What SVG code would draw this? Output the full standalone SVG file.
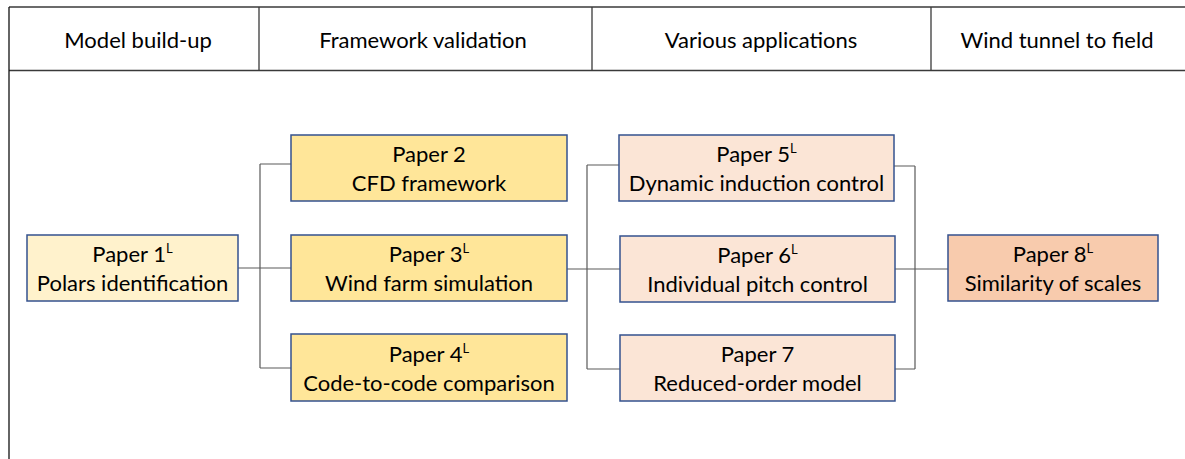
<svg xmlns="http://www.w3.org/2000/svg" width="1185" height="459" viewBox="0 0 1185 459">
<style>
text{font-family:Lato,"Open Sans","Liberation Sans",sans-serif;font-size:22px;fill:#000;text-anchor:middle}
.frame{stroke:#3a3a3a;stroke-width:1.3;fill:none}
.box{stroke:#34528F;stroke-width:1.5}
.c1{fill:#FFF2CC}.c2{fill:#FFE699}.c3{fill:#FBE5D6}.c4{fill:#F8CBAD}
.conn{stroke:#5a5a5a;stroke-width:1.2;fill:none}
.sup{font-size:13px}
</style>
<g id="header">
<line class="frame" x1="9" y1="7" x2="1185" y2="7"/>
<line class="frame" x1="9" y1="70.5" x2="1185" y2="70.5"/>
<line class="frame" x1="9" y1="7" x2="9" y2="459" style="stroke:#111"/>
<line class="frame" x1="259" y1="7" x2="259" y2="70.5"/>
<line class="frame" x1="592" y1="7" x2="592" y2="70.5"/>
<line class="frame" x1="931" y1="7" x2="931" y2="70.5"/>
<text x="138" y="48">Model build-up</text>
<text x="423" y="48">Framework validation</text>
<text x="761" y="48">Various applications</text>
<text x="1057" y="48">Wind tunnel to field</text>
</g>
<g id="connectors">
<path class="conn" d="M238,268 H291 M260,164 V368 M260,164 H291 M260,368 H291"/>
<path class="conn" d="M567,269 H620 M587,165 V369 M587,165 H619 M587,369 H620"/>
<path class="conn" d="M894,166 H915 M915,166 V369 M895,369 H915 M895,269 H948"/>
</g>
<g id="paper1"><rect class="box c1" x="27" y="235" width="211" height="66"/>
<text x="132.5" y="262">Paper 1<tspan class="sup" dy="-9">L</tspan></text><text x="132.5" y="291">Polars identification</text></g>
<g id="paper2"><rect class="box c2" x="291" y="135" width="276" height="66"/>
<text x="429" y="162">Paper 2</text><text x="429" y="191">CFD framework</text></g>
<g id="paper3"><rect class="box c2" x="291" y="235" width="276" height="66"/>
<text x="429" y="262">Paper 3<tspan class="sup" dy="-9">L</tspan></text><text x="429" y="291">Wind farm simulation</text></g>
<g id="paper4"><rect class="box c2" x="291" y="334" width="276" height="67"/>
<text x="429" y="362">Paper 4<tspan class="sup" dy="-9">L</tspan></text><text x="429" y="391">Code-to-code comparison</text></g>
<g id="paper5"><rect class="box c3" x="619" y="135" width="275" height="66"/>
<text x="756.5" y="162">Paper 5<tspan class="sup" dy="-9">L</tspan></text><text x="756.5" y="191">Dynamic induction control</text></g>
<g id="paper6"><rect class="box c3" x="620" y="236" width="275" height="66"/>
<text x="757.5" y="263">Paper 6<tspan class="sup" dy="-9">L</tspan></text><text x="757.5" y="292">Individual pitch control</text></g>
<g id="paper7"><rect class="box c3" x="620" y="335" width="275" height="66"/>
<text x="757.5" y="362">Paper 7</text><text x="757.5" y="391">Reduced-order model</text></g>
<g id="paper8"><rect class="box c4" x="948" y="235" width="210" height="66"/>
<text x="1053" y="262">Paper 8<tspan class="sup" dy="-9">L</tspan></text><text x="1053" y="291">Similarity of scales</text></g>
</svg>
